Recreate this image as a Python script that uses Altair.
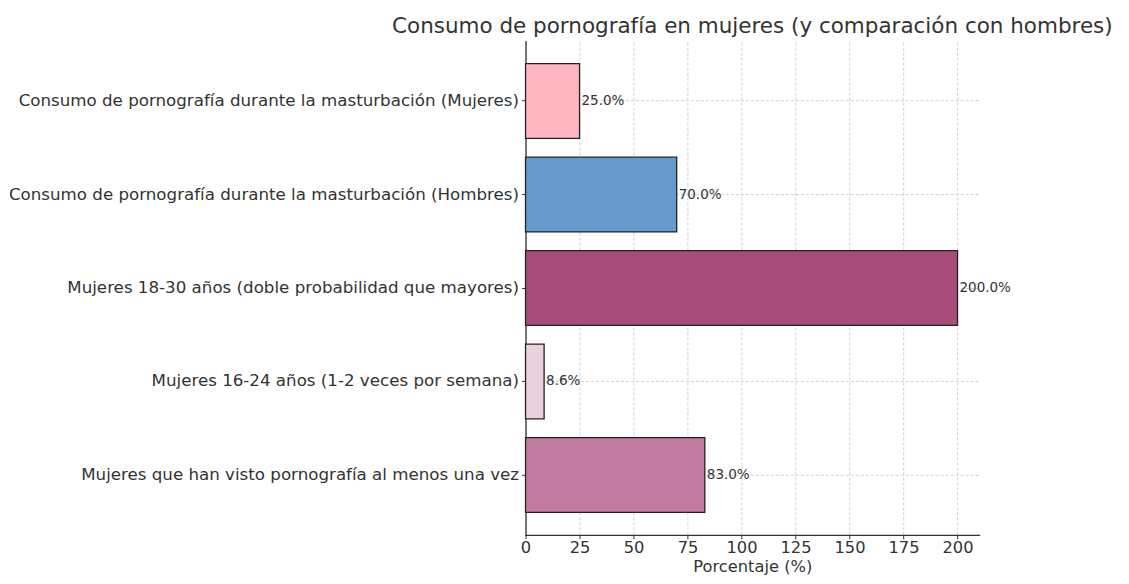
import altair as alt
import pandas as pd

categories = [
    "Consumo de pornografía durante la masturbación (Mujeres)",
    "Consumo de pornografía durante la masturbación (Hombres)",
    "Mujeres 18-30 años (doble probabilidad que mayores)",
    "Mujeres 16-24 años (1-2 veces por semana)",
    "Mujeres que han visto pornografía al menos una vez",
]
values = [25.0, 70.0, 200.0, 8.6, 83.0]
colors = ["#FFB6C1", "#6699CC", "#A64D79", "#EAD1DC", "#C27BA0"]
labels = [f"{v:.1f}%" for v in values]

df = pd.DataFrame({"cat": categories, "val": values, "color": colors, "label": labels})

FONT = "DejaVu Sans"

y = alt.Y("cat:N", sort=categories, title=None,
          scale=alt.Scale(paddingInner=0.2, paddingOuter=0.24),
          axis=alt.Axis(labelFontSize=16.7, labelColor="#333", labelFont=FONT,
                        tickColor="#333", tickSize=4, domainColor="#333", domainWidth=1.3,
                        gridColor="#d0d0d0", gridDash=[3, 2], grid=True, labelPadding=3,
                        labelLimit=700))
x = alt.X("val:Q", title="Porcentaje (%)",
          scale=alt.Scale(domain=[0, 210], nice=False, zero=True),
          axis=alt.Axis(values=[0, 25, 50, 75, 100, 125, 150, 175, 200],
                        labelFontSize=16.3, labelColor="#333", labelFont=FONT,
                        titleFontSize=16.3, titleColor="#333", titleFont=FONT, titleFontWeight="normal",
                        titlePadding=2, labelPadding=1,
                        tickColor="#333", tickSize=4, domainColor="#333", domainWidth=1.3,
                        gridColor="#d0d0d0", gridDash=[3, 2], labelFlush=False))

bars = alt.Chart(df).mark_bar(stroke="#222", strokeWidth=1.3).encode(
    x=x, y=y, color=alt.Color("color:N", scale=None))

text = alt.Chart(df).mark_text(align="left", baseline="middle", dx=2, fontSize=13.5,
                                font=FONT, color="#333").encode(
    x="val:Q", y=alt.Y("cat:N", sort=categories), text="label:N")

chart = (bars + text).properties(
    width=454, height=494,
    title=alt.TitleParams("Consumo de pornografía en mujeres (y comparación con hombres)",
                          fontSize=21.5, font=FONT, fontWeight="normal", color="#333",
                          anchor="middle", offset=4),
    padding={"left": 518, "top": 33, "right": 142, "bottom": 41},
    autosize=alt.AutoSizeParams(type="none"),
).configure_view(stroke=None).configure_axis(domainCap="square")

chart.save("out.html", embed_options={"renderer": "svg", "actions": False})
